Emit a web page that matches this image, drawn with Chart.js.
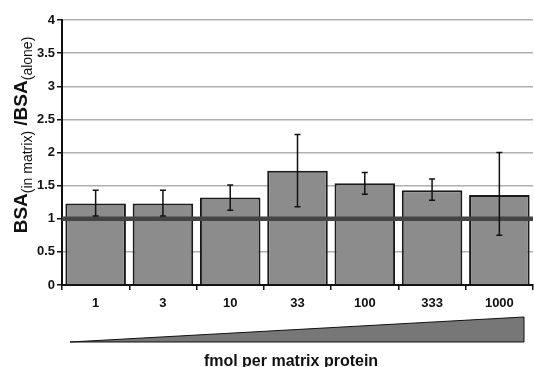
<!DOCTYPE html>
<html>
<head>
<meta charset="utf-8">
<script src="https://cdn.jsdelivr.net/npm/chart.js@4/dist/chart.umd.min.js"></script>
<style>
html, body { margin: 0; padding: 0; background: #fff; overflow: hidden; }
</style>
</head>
<body>
<canvas id="c" width="534" height="367"></canvas>
<script>
// values
const categories = ['1', '3', '10', '33', '100', '333', '1000'];
const ratio = [1.23, 1.23, 1.32, 1.725, 1.535, 1.43, 1.36];
const errHigh = [1.43, 1.43, 1.51, 2.27, 1.70, 1.60, 2.00];
const errLow = [1.04, 1.04, 1.13, 1.18, 1.37, 1.28, 0.75];
const refLine = 1;

const FONT = '"Liberation Sans", Arial, sans-serif';

// thick line at 1 and the error bars
const overlay = {
    id: 'overlay',
    afterDatasetsDraw(chart) {
        const { ctx, chartArea, scales: { x, y } } = chart;
        ctx.save();
        ctx.strokeStyle = '#444';
        ctx.lineWidth = 4.5;
        ctx.beginPath();
        ctx.moveTo(chartArea.left, y.getPixelForValue(refLine));
        ctx.lineTo(chartArea.right, y.getPixelForValue(refLine));
        ctx.stroke();

        ctx.strokeStyle = '#111';
        ctx.lineWidth = 1.5;
        for (let i = 0; i < categories.length; i++) {
            const px = x.getPixelForValue(i);
            const hi = y.getPixelForValue(errHigh[i]);
            const lo = y.getPixelForValue(errLow[i]);
            ctx.beginPath();
            ctx.moveTo(px, hi); ctx.lineTo(px, lo);
            ctx.moveTo(px - 3, hi); ctx.lineTo(px + 3, hi);
            ctx.moveTo(px - 3, lo); ctx.lineTo(px + 3, lo);
            ctx.stroke();
        }
        ctx.restore();
    },
    afterDraw(chart) {
        const { ctx, chartArea } = chart;
        ctx.save();
        // wedge under the axis
        ctx.fillStyle = '#777';
        ctx.strokeStyle = '#111';
        ctx.lineWidth = 1;
        ctx.beginPath();
        ctx.moveTo(chartArea.left + 8, 342);
        ctx.lineTo(chartArea.right - 9, 317);
        ctx.lineTo(chartArea.right - 9, 342);
        ctx.closePath();
        ctx.fill();
        ctx.stroke();

        // x title
        ctx.fillStyle = '#111';
        ctx.font = 'bold 16px ' + FONT;
        ctx.textAlign = 'center';
        ctx.textBaseline = 'alphabetic';
        ctx.fillText('fmol per matrix protein', 291, 366);

        // y title with subscripts
        const parts = [
            { t: 'BSA', f: 'bold 19px ' + FONT, dy: 0 },
            { t: '(in matrix)', f: '14px ' + FONT, dy: 5 },
            { t: ' /BSA', f: 'bold 19px ' + FONT, dy: 0 },
            { t: '(alone)', f: '14px ' + FONT, dy: 5 }
        ];
        let total = 0;
        parts.forEach(p => { ctx.font = p.f; p.w = ctx.measureText(p.t).width; total += p.w; });
        ctx.translate(27, 135);
        ctx.rotate(-Math.PI / 2);
        ctx.textAlign = 'left';
        let cx = -total / 2;
        parts.forEach(p => {
            ctx.font = p.f;
            ctx.fillText(p.t, cx, p.dy);
            cx += p.w;
        });
        ctx.restore();
    }
};

new Chart(document.getElementById('c'), {
    type: 'bar',
    data: {
        labels: categories,
        datasets: [{
            data: ratio,
            backgroundColor: '#8c8c8c',
            borderColor: '#1a1a1a',
            borderWidth: 2,
            categoryPercentage: 1,
            barPercentage: 0.9
        }]
    },
    options: {
        responsive: false,
        animation: false,
        layout: { padding: { top: 20, right: 1, left: 0, bottom: 0 } },
        plugins: { legend: { display: false }, tooltip: { enabled: false } },
        scales: {
            x: {
                grid: { drawOnChartArea: false, tickLength: 5, color: '#111', lineWidth: 1.5 },
                border: { color: '#111', width: 2 },
                ticks: { color: '#111', font: { family: FONT, size: 13, weight: 'bold' }, padding: 6 },
                afterFit(s) { s.height = 82; }
            },
            y: {
                min: 0,
                max: 4,
                ticks: {
                    stepSize: 0.5,
                    color: '#111',
                    font: { family: FONT, size: 13, weight: 'bold' },
                    padding: 2,
                    callback: v => String(v)
                },
                grid: { color: '#b0b0b0', lineWidth: 1.5, tickColor: '#111', tickLength: 5 },
                border: { color: '#111', width: 2 },
                afterFit(s) { s.width = 62; }
            }
        }
    },
    plugins: [overlay]
});
</script>
</body>
</html>
